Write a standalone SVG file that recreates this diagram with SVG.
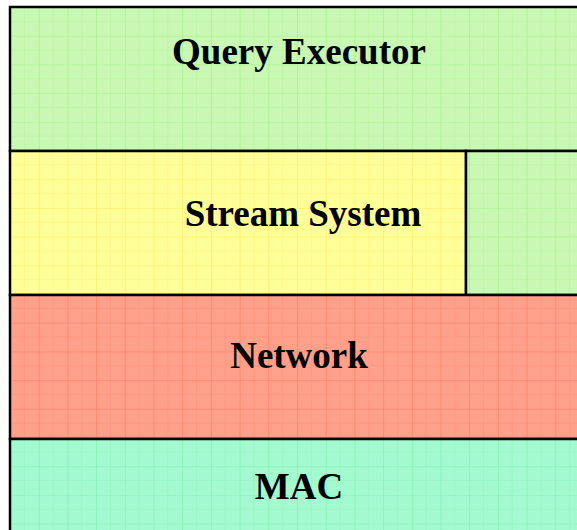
<svg xmlns="http://www.w3.org/2000/svg" width="577" height="530" viewBox="0 0 577 530">
<defs>
<pattern id="gG" x="10" y="7" width="28.7" height="28.7" patternUnits="userSpaceOnUse">
<rect width="28.7" height="28.7" fill="#c9f8b4"/>
<path d="M14.35 0V28.7M0 14.35H28.7" stroke="#c0f5a8" stroke-width="1"/>
<path d="M0 0V28.7M0 0H28.7" stroke="#a3ee82" stroke-width="1.2"/>
</pattern>
<pattern id="gY" x="10" y="7" width="28.7" height="28.7" patternUnits="userSpaceOnUse">
<rect width="28.7" height="28.7" fill="#ffff99"/>
<path d="M14.35 0V28.7M0 14.35H28.7" stroke="#fff88a" stroke-width="1"/>
<path d="M0 0V28.7M0 0H28.7" stroke="#ffe95a" stroke-width="1.2"/>
</pattern>
<pattern id="gR" x="10" y="7" width="28.7" height="28.7" patternUnits="userSpaceOnUse">
<rect width="28.7" height="28.7" fill="#ffa08a"/>
<path d="M14.35 0V28.7M0 14.35H28.7" stroke="#ff9880" stroke-width="1"/>
<path d="M0 0V28.7M0 0H28.7" stroke="#ff7a5c" stroke-width="1.2"/>
</pattern>
<pattern id="gM" x="10" y="7" width="28.7" height="28.7" patternUnits="userSpaceOnUse">
<rect width="28.7" height="28.7" fill="#a4fad0"/>
<path d="M14.35 0V28.7M0 14.35H28.7" stroke="#9af6c6" stroke-width="1"/>
<path d="M0 0V28.7M0 0H28.7" stroke="#7eeeae" stroke-width="1.2"/>
</pattern>
</defs>
<style>
.box{stroke:#000;stroke-width:2.5}
.lbl{font-family:"Liberation Serif","Times New Roman",serif;font-weight:bold;font-size:37px;fill:#000;text-anchor:middle}
</style>
<g id="query-executor">
<rect class="box" x="10" y="7" width="580" height="144" fill="url(#gG)"/>
<text class="lbl" x="299" y="64">Query Executor</text>
</g>
<g id="stream-system">
<rect class="box" x="10" y="151" width="456" height="144" fill="url(#gY)"/>
<text class="lbl" x="303" y="226">Stream System</text>
</g>
<g id="side-block">
<rect class="box" x="466" y="151" width="124" height="144" fill="url(#gG)"/>
</g>
<g id="network">
<rect class="box" x="10" y="295" width="580" height="144" fill="url(#gR)"/>
<text class="lbl" x="299" y="368">Network</text>
</g>
<g id="mac">
<rect class="box" x="10" y="439" width="580" height="110" fill="url(#gM)"/>
<text class="lbl" x="299" y="499">MAC</text>
</g>
<g id="connectors"/>
</svg>
